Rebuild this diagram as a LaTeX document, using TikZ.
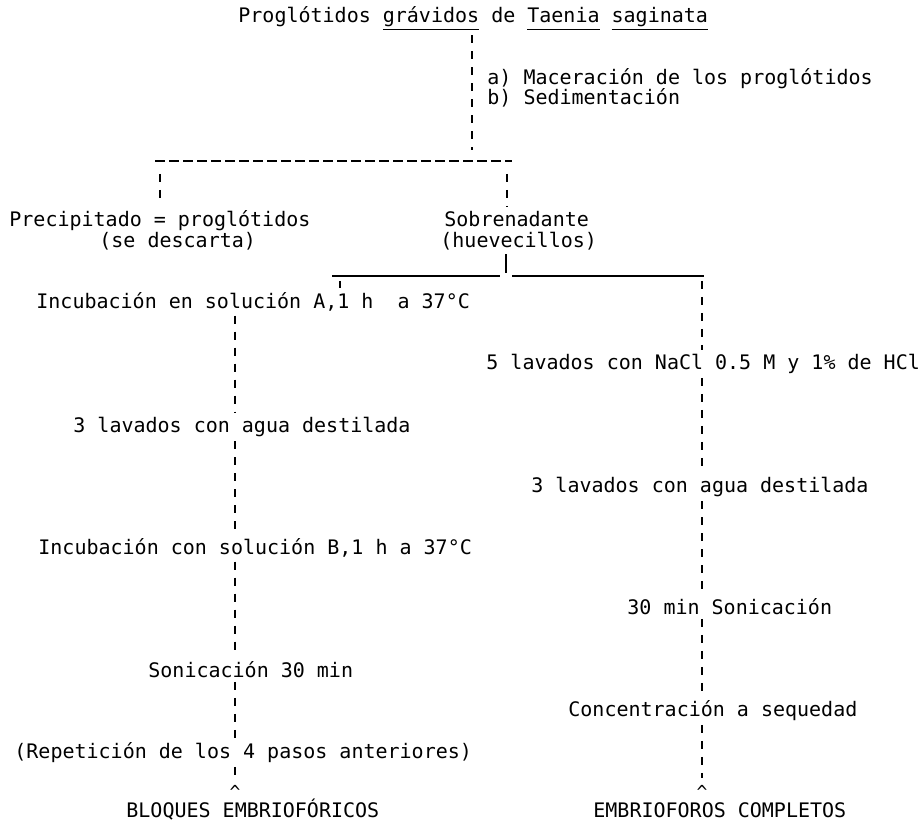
\documentclass[tikz,border=0pt]{standalone}
\usepackage{fontspec}
\newfontfamily\typefont{DejaVu Sans Mono}
\usetikzlibrary{calc}

\tikzset{
  txt/.style={font=\typefont\fontsize{10}{12}\selectfont, inner sep=1pt, anchor=mid west},
  caret/.style={font=\typefont\fontsize{9}{10}\selectfont, inner sep=0pt},
  vdash/.style={line width=0.9pt, dash pattern=on 4pt off 4pt, shorten <=1pt, shorten >=1pt},
  hdash/.style={line width=0.9pt, dash pattern=on 5pt off 2pt},
  bar/.style={line width=0.8pt}
}
\newcommand{\ulw}[1]{\underline{#1\vphantom{g}}}
\newcommand{\caretmark}{\raisebox{-0.5em}[0.25em][0pt]{\textasciicircum}}

\begin{document}
\begin{tikzpicture}[x=0.5pt, y=-0.5pt]
	\useasboundingbox (0,0) rectangle (923,823);

		% Column positions (pixels of the scan)
		\def\xTop{472}
		\def\xA{160}
		\def\xB{507}
		\def\xJ{506}
		\def\xS{340}
		\def\xL{235}
		\def\xR{702}

		% Row positions
		\def\yhl{161}
		\def\ydrop{172}
		\def\ybar{276}

		\coordinate (colL) at (\xL, 0);
		\coordinate (colR) at (\xR, 0);

		% --- Start and first separation ---
		\node[txt] (title) at (236, 18) {Proglótidos \ulw{grávidos} de \ulw{Taenia} \ulw{saginata}};
		\node[txt] (stepa) at (485, 80) {a) Maceración de los proglótidos};
		\node[txt] (stepb) at (485, 100) {b) Sedimentación};

		\coordinate (split) at (\xTop, 152);
		\draw[vdash] (title.south -| split) -- (split);

		\coordinate (hlL) at (155, \yhl);
		\coordinate (hlR) at (512, \yhl);
		\draw[hdash] (hlL) -- (hlR);

		\node[txt] (prec) at (7, 222) {Precipitado = proglótidos};
		\node[txt] (desc) at (97, 243) {(se descarta)};
		\node[txt] (sobre) at (442, 222) {Sobrenadante};
		\node[txt] (huev) at (438, 243) {(huevecillos)};

		\coordinate (dropA) at (\xA, \ydrop);
		\coordinate (dropB) at (\xB, \ydrop);
		\draw[vdash] (dropA) -- (prec.north -| dropA);
		\draw[vdash] (dropB) -- (sobre.north -| dropB);

		% --- Second separation ---
		\coordinate (barJ) at (\xJ, \ybar-3);
		\draw[bar] ([yshift=-1pt]huev.south -| barJ) -- (barJ);
		\coordinate (barL) at (332, \ybar);
		\coordinate (barM1) at (500, \ybar);
		\coordinate (barM2) at (512, \ybar);
		\coordinate (barR) at (704, \ybar);
		\draw[bar] (barL) -- (barM1);
		\draw[bar] (barM2) -- (barR);

		% --- Left branch ---
		\node[txt] (incA) at (34, 304) {Incubación en solución A,1 h~~a 37°C};
		\node[txt] (lavL) at (71, 428) {3 lavados con agua destilada};
		\node[txt] (incB) at (36, 550) {Incubación con solución B,1 h a 37°C};
		\node[txt] (sonL) at (146, 673) {Sonicación 30 min};
		\node[txt] (rep) at (12, 754) {(Repetición de los 4 pasos anteriores)};
		\node[caret] (caretL) at (\xL, 787) {\caretmark};
		\node[txt] (bloq) at (124, 813) {BLOQUES EMBRIOFÓRICOS};

		\coordinate (brL) at (\xS, \ybar+3);
		\draw[vdash] (brL) -- (incA.north -| brL);
		\draw[vdash] (incA.south -| colL) -- (lavL.north -| colL);
		\draw[vdash] (lavL.south -| colL) -- (incB.north -| colL);
		\draw[vdash] (incB.south -| colL) -- (sonL.north -| colL);
		\draw[vdash] (sonL.south -| colL) -- (rep.north -| colL);
		\draw[vdash, shorten >=3pt] (rep.south -| colL) -- (caretL.north);

		% --- Right branch ---
		\node[txt] (lav5) at (484, 365) {5 lavados con NaCl 0.5 M y 1\% de HCl};
		\node[txt] (lavR) at (529, 488) {3 lavados con agua destilada};
		\node[txt] (sonR) at (625, 610) {30 min Sonicación};
		\node[txt] (conc) at (566, 712) {Concentración a sequedad};
		\node[caret] (caretR) at (\xR, 787) {\caretmark};
		\node[txt] (emb) at (591, 813) {EMBRIOFOROS COMPLETOS};

		\coordinate (brR) at (\xR, \ybar+3);
		\draw[vdash] (brR) -- (lav5.north -| brR);
		\draw[vdash] (lav5.south -| colR) -- (lavR.north -| colR);
		\draw[vdash] (lavR.south -| colR) -- (sonR.north -| colR);
		\draw[vdash] (sonR.south -| colR) -- (conc.north -| colR);
		\draw[vdash, shorten >=3pt] (conc.south -| colR) -- (caretR.north);

	\end{tikzpicture}
\end{document}
